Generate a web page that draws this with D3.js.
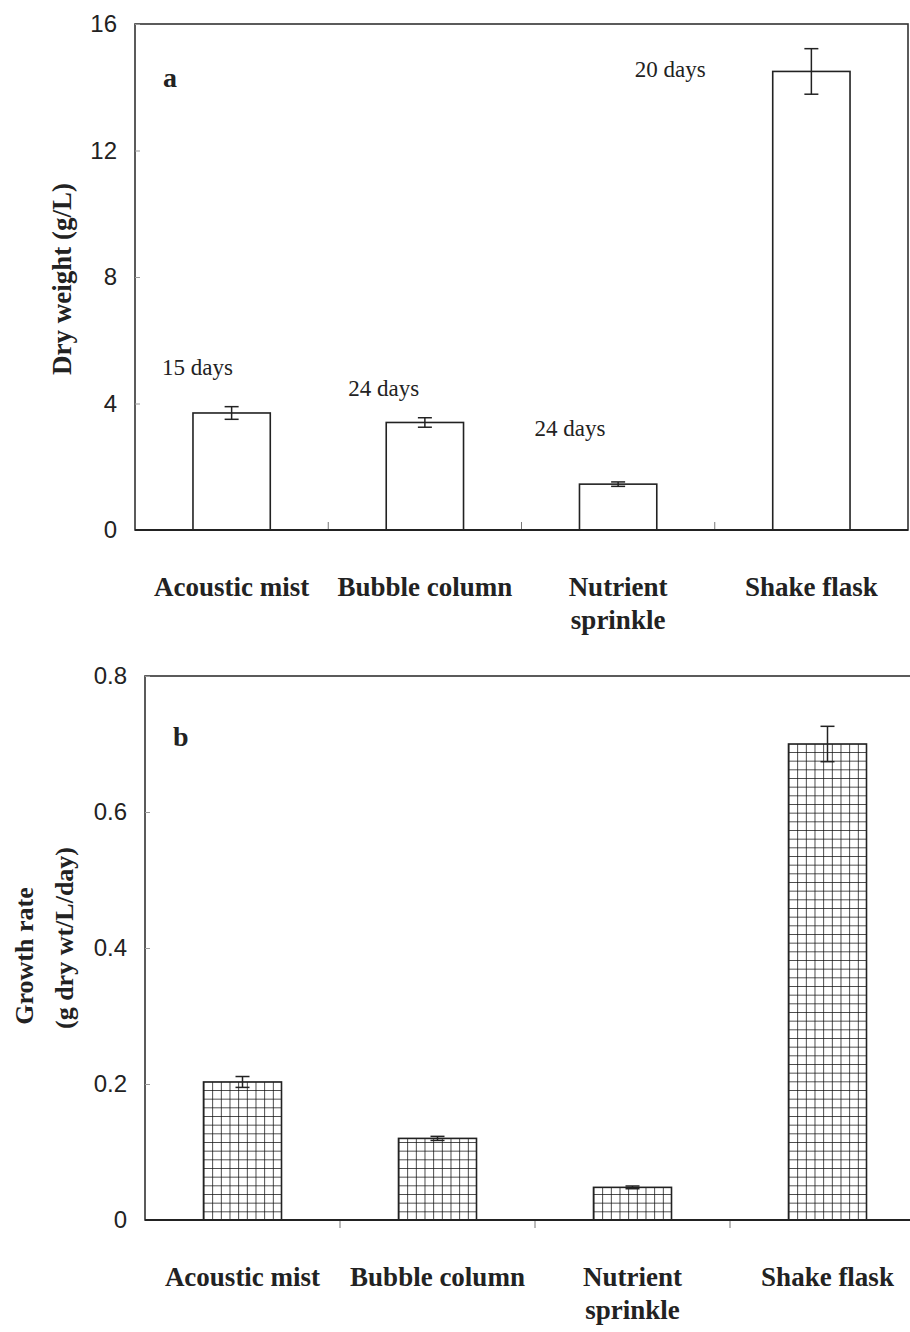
<!DOCTYPE html>
<html>
<head>
<meta charset="utf-8">
<script src="https://cdn.jsdelivr.net/npm/d3@7"></script>
<style>
  body { margin: 0; background: #fff; }
  svg { display: block; }
</style>
</head>
<body>
<div id="container"></div>
<script>
// Données
const categories = ["Acoustic mist", "Bubble column", "Nutrient sprinkle", "Shake flask"];
const catLines = [["Acoustic mist"], ["Bubble column"], ["Nutrient", "sprinkle"], ["Shake flask"]];

// (a) poids sec, g/L
const dryWeight = [3.7, 3.4, 1.45, 14.5];
const dryWeightErr = [0.2, 0.15, 0.07, 0.72];
const dryTicks = [0, 4, 8, 12, 16];
const cultureDays = ["15 days", "24 days", "24 days", "20 days"];
// position des étiquettes "days" : décalage dans la bande et valeur y
const daysDx = [27, 20, 13, -80];
const daysY = [4.9, 4.24, 2.97, 14.32];

// (b) taux de croissance, g dry wt/L/day
const growthRate = [0.203, 0.12, 0.048, 0.70];
const growthErr = [0.008, 0.003, 0.002, 0.026];
const growthTicks = [0, 0.2, 0.4, 0.6, 0.8];

const width = 910;
const height = 1332;

const svg = d3.select("#container").append("svg")
    .attr("width", width)
    .attr("height", height);

const defs = svg.append("defs");

const serif = "'Liberation Serif', 'Times New Roman', serif";
const sans = "'Liberation Sans', Arial, sans-serif";
const ink = "#222";

function drawPanel(opt) {
    const g = svg.append("g");

    const x = d3.scaleBand()
        .domain(categories)
        .range([opt.left, opt.right])
        .paddingInner(0.6)
        .paddingOuter(0.3);

    const y = d3.scaleLinear()
        .domain([0, opt.max])
        .range([opt.bottom, opt.top]);

    // cadre
    g.append("rect")
        .attr("x", opt.left)
        .attr("y", opt.top)
        .attr("width", opt.right - opt.left)
        .attr("height", opt.bottom - opt.top)
        .attr("fill", "none")
        .attr("stroke", "#333")
        .attr("stroke-width", 1.6);

    // axe y
    const yAxis = g.append("g")
        .attr("transform", `translate(${opt.left},0)`)
        .call(d3.axisLeft(y).tickValues(opt.ticks).tickSize(-5).tickPadding(18).tickFormat(opt.fmt));
    yAxis.select(".domain").remove();
    yAxis.selectAll(".tick line").attr("stroke", "#999");
    yAxis.selectAll("text")
        .attr("font-family", sans)
        .attr("font-size", 24)
        .attr("fill", ink);

    // petites graduations entre catégories
    const step = x.step();
    const gap = step - x.bandwidth();
    g.selectAll(".xtick")
        .data(categories.slice(1))
        .enter().append("line")
        .attr("class", "xtick")
        .attr("x1", d => x(d) - gap / 2)
        .attr("x2", d => x(d) - gap / 2)
        .attr("y1", opt.bottom)
        .attr("y2", opt.bottom + opt.tickDir * 8)
        .attr("stroke", "#777")
        .attr("stroke-width", 1);

    // barres
    g.selectAll(".bar")
        .data(opt.values)
        .enter().append("rect")
        .attr("class", "bar")
        .attr("x", (d, i) => x(categories[i]))
        .attr("y", d => y(d))
        .attr("width", x.bandwidth())
        .attr("height", d => opt.bottom - y(d))
        .attr("fill", (d, i) => opt.fill ? opt.fill(i, x, y) : "#fff")
        .attr("stroke", ink)
        .attr("stroke-width", 1.6);

    // axe x (ligne du zéro)
    g.append("line")
        .attr("x1", opt.left)
        .attr("x2", opt.right)
        .attr("y1", opt.bottom)
        .attr("y2", opt.bottom)
        .attr("stroke", ink)
        .attr("stroke-width", 2);

    // barres d'erreur
    const eb = g.selectAll(".err")
        .data(opt.values)
        .enter().append("g")
        .attr("class", "err")
        .attr("stroke", ink)
        .attr("stroke-width", 1.5);
    const cx = i => x(categories[i]) + x.bandwidth() / 2;
    eb.append("line")
        .attr("x1", (d, i) => cx(i)).attr("x2", (d, i) => cx(i))
        .attr("y1", (d, i) => y(d + opt.err[i]))
        .attr("y2", (d, i) => y(d - opt.err[i]));
    eb.append("line")
        .attr("x1", (d, i) => cx(i) - 7).attr("x2", (d, i) => cx(i) + 7)
        .attr("y1", (d, i) => y(d + opt.err[i])).attr("y2", (d, i) => y(d + opt.err[i]));
    eb.append("line")
        .attr("x1", (d, i) => cx(i) - 7).attr("x2", (d, i) => cx(i) + 7)
        .attr("y1", (d, i) => y(d - opt.err[i])).attr("y2", (d, i) => y(d - opt.err[i]));

    // étiquettes des catégories
    const lab = g.selectAll(".cat")
        .data(catLines)
        .enter().append("text")
        .attr("class", "cat")
        .attr("x", (d, i) => x(categories[i]) + x.bandwidth() / 2)
        .attr("y", opt.bottom + 66)
        .attr("text-anchor", "middle")
        .attr("font-family", serif)
        .attr("font-weight", "bold")
        .attr("font-size", 27)
        .attr("fill", ink);
    lab.selectAll("tspan")
        .data(d => d)
        .enter().append("tspan")
        .attr("x", function () { return this.parentNode.getAttribute("x"); })
        .attr("dy", (d, i) => i === 0 ? 0 : 33)
        .text(d => d);

    // lettre du panneau
    g.append("text")
        .attr("x", opt.left + 28)
        .attr("y", opt.top + opt.letterDy)
        .attr("font-family", serif)
        .attr("font-weight", "bold")
        .attr("font-size", 28)
        .attr("fill", ink)
        .text(opt.letter);

    // titre de l'axe y
    opt.yTitle.forEach(t => {
        g.append("text")
            .attr("transform", `translate(${t.x},${t.y}) rotate(-90)`)
            .attr("text-anchor", "middle")
            .attr("dominant-baseline", "central")
            .attr("font-family", serif)
            .attr("font-weight", "bold")
            .attr("font-size", t.size)
            .attr("fill", ink)
            .text(t.text);
    });

    return { g, x, y };
}

// Panneau a
const pa = drawPanel({
    left: 135, right: 908, top: 24, bottom: 530, max: 16,
    values: dryWeight, err: dryWeightErr, ticks: dryTicks,
    fmt: d => d, tickDir: -1, letter: "a", letterDy: 63,
    yTitle: [{ text: "Dry weight (g/L)", x: 62, y: 279, size: 27 }]
});

pa.g.selectAll(".days")
    .data(cultureDays)
    .enter().append("text")
    .attr("class", "days")
    .attr("x", (d, i) => pa.x(categories[i]) - (pa.x.step() - pa.x.bandwidth()) / 2 + daysDx[i])
    .attr("y", (d, i) => pa.y(daysY[i]))
    .attr("font-family", serif)
    .attr("font-size", 23)
    .attr("fill", ink)
    .text(d => d);

// Panneau b : motif quadrillé propre à chaque barre
function gridFill(i, x, y) {
    const w = x.bandwidth() / 9;
    const id = `grid-${i}`;
    const p = defs.append("pattern")
        .attr("id", id)
        .attr("patternUnits", "userSpaceOnUse")
        .attr("x", x(categories[i]))
        .attr("y", y(0))
        .attr("width", w)
        .attr("height", w);
    p.append("rect").attr("width", w).attr("height", w).attr("fill", "#fff");
    p.append("path")
        .attr("d", `M0,0H${w}M0,0V${w}`)
        .attr("stroke", "#111")
        .attr("stroke-width", 1.5)
        .attr("fill", "none");
    return `url(#${id})`;
}

drawPanel({
    left: 145, right: 925, top: 676, bottom: 1220, max: 0.8,
    values: growthRate, err: growthErr, ticks: growthTicks,
    fmt: d => d === 0 ? "0" : d.toFixed(1), tickDir: 1, letter: "b", letterDy: 70,
    fill: gridFill,
    yTitle: [
        { text: "Growth rate", x: 24, y: 956, size: 26 },
        { text: "(g dry wt/L/day)", x: 64, y: 938, size: 26 }
    ]
});
</script>
</body>
</html>
